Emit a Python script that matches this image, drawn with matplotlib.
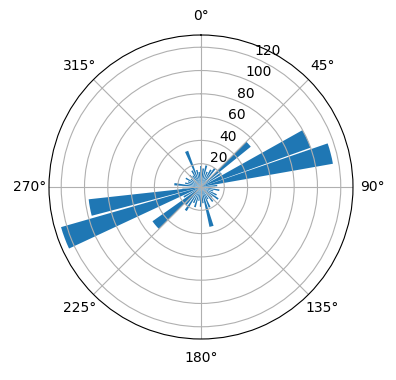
import numpy as np
import matplotlib
matplotlib.use("Agg")
import matplotlib.pyplot as plt

# bar directions (degrees, clockwise from north), widths (degrees) and lengths
directions = [0, 7, 14, 22, 30, 37, 48, 56, 65.5, 75.5, 85, 92, 100, 108, 117,
              125, 133, 141, 150, 157, 165, 173, 181, 189, 197, 205, 213, 221,
              230, 240, 249.5, 259.5, 268, 276, 284, 292, 300, 308, 316, 324,
              331, 338, 346, 353]
widths = [5, 5, 5, 5, 5, 5, 6, 5, 9.5, 9, 5, 5, 5, 5, 5,
          5, 5, 5, 5, 5, 6, 5, 5, 5, 5, 5, 5, 5,
          9.5, 5, 9, 8.5, 5, 5, 5, 5, 5, 5, 5, 5,
          5, 5, 5, 5]
counts = [18, 16, 19, 14, 17, 20, 55, 21, 100, 115, 14, 12, 16, 11, 15,
          18, 13, 16, 12, 19, 35, 14, 17, 12, 18, 15, 24, 20,
          51, 17, 125, 97, 16, 23, 14, 12, 15, 11, 14, 12,
          16, 33, 15, 13]


def main():
    fig = plt.figure(figsize=(3.96, 3.8), dpi=100)
    ax = fig.add_axes([0.1237, 0.1079, 0.7677, 0.8], projection='polar')
    ax.set_theta_zero_location('N')
    ax.set_theta_direction(-1)

    ax.bar(np.deg2rad(directions), counts, width=np.deg2rad(widths),
           color='#1f77b4')
    ax.set_ylim(0, 130.5)
    ax.set_yticks([20, 40, 60, 80, 100, 120])

    fig.savefig("out.png", dpi=100)


if __name__ == '__main__':
    main()
